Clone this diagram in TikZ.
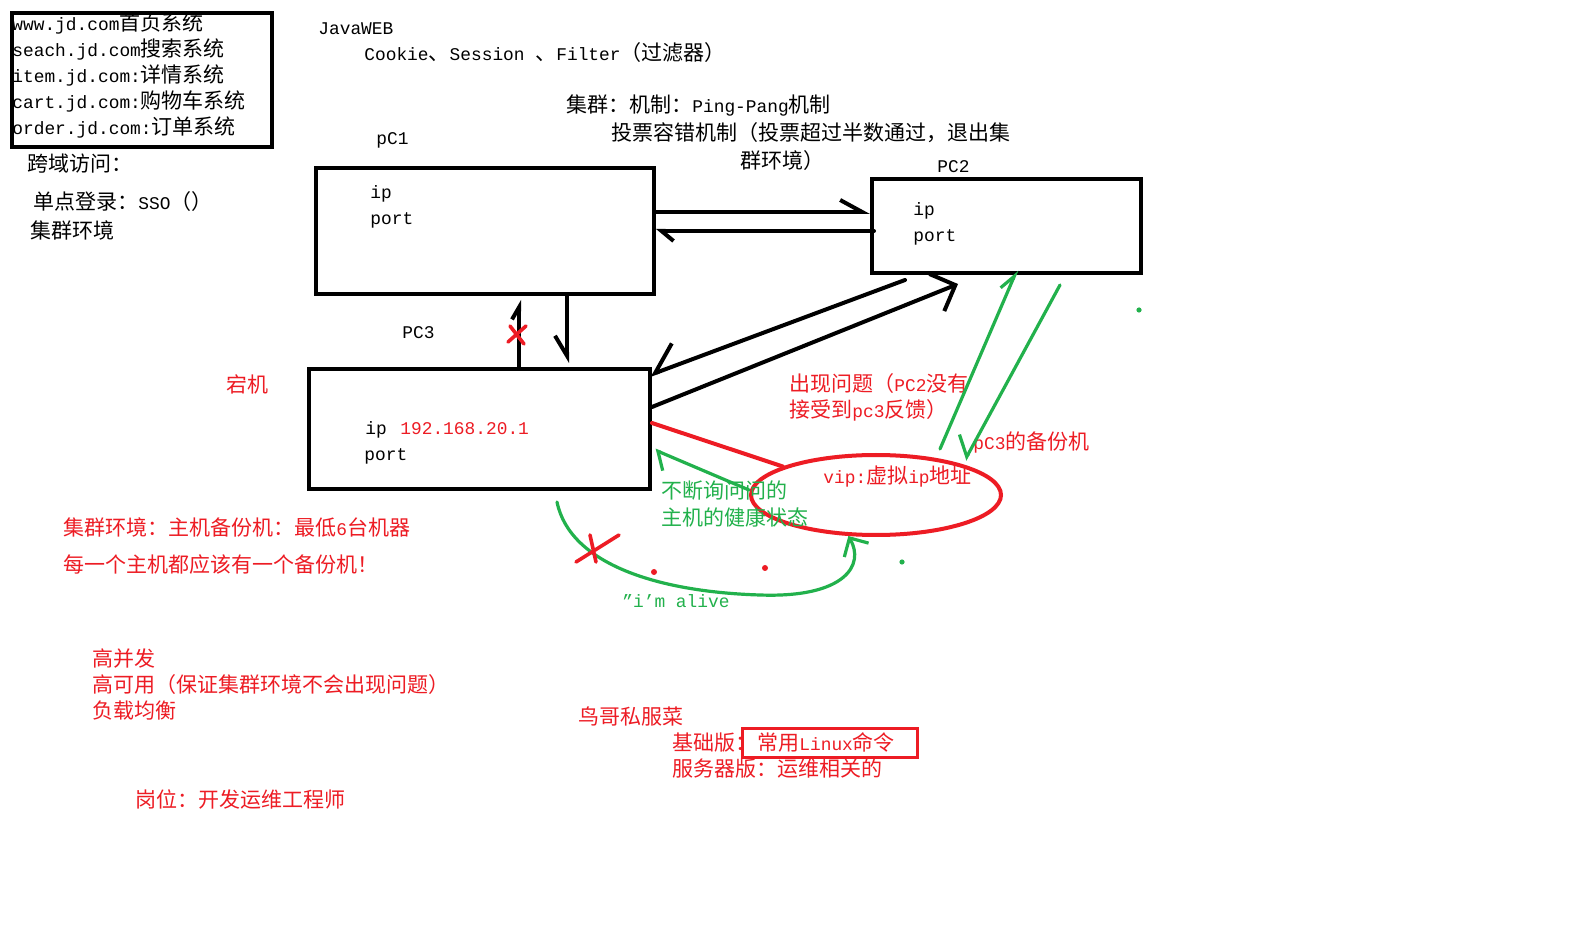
\documentclass[tikz,border=0pt]{standalone}
\usepackage{fontspec}
\setmainfont{Liberation Mono}[Scale=0.85]
\newfontfamily\latinfont{Liberation Mono}[Scale=0.85]
\newfontfamily\cjkfont{Noto Sans CJK SC}
% switch to the CJK font for Chinese characters and punctuation
\XeTeXinterchartokenstate=1
\newXeTeXintercharclass\cjkclass
\newcount\cjkcode
\cjkcode="2E80
\loop \XeTeXcharclass\cjkcode=\cjkclass \advance\cjkcode 1 \ifnum\cjkcode<"A000 \repeat
\cjkcode="FF00
\loop \XeTeXcharclass\cjkcode=\cjkclass \advance\cjkcode 1 \ifnum\cjkcode<"FFF0 \repeat
\XeTeXinterchartoks 0 \cjkclass = {\cjkfont}
\XeTeXinterchartoks 4095 \cjkclass = {\cjkfont}
\XeTeXinterchartoks \cjkclass 0 = {\latinfont}
\usepackage{tikz}
\usetikzlibrary{shapes.geometric, arrows.meta}
\definecolor{paintred}{RGB}{237,28,36}
\definecolor{paintgreen}{RGB}{34,177,76}
\tikzstyle{hostbox} = [rectangle, draw=black, line width=2pt, inner sep=0pt]
\tikzstyle{note} = [anchor=base west, inner sep=0pt, font=\fontsize{10.5}{13}\selectfont]
\tikzstyle{rednote} = [note, text=paintred]
\tikzstyle{greennote} = [note, text=paintgreen]
\tikzstyle{arrow} = [line width=2pt, line cap=round, black]
\tikzstyle{greenarrow} = [line width=1.6pt, line cap=round, paintgreen]
\tikzstyle{redpen} = [line width=1.8pt, line cap=round, paintred]

\begin{document}
\begin{tikzpicture}[x=0.5pt, y=-0.5pt]
\useasboundingbox[fill=white] (0,0) rectangle (1571,936);
% sites box
\node (sites) [hostbox, minimum width=130pt, minimum height=67pt] at (142,80) {};
\node (www) [note] at (12,31) {www.jd.com首页系统};
\node (seach) [note] at (12,57) {seach.jd.com搜索系统};
\node (item) [note] at (12,83) {item.jd.com:详情系统};
\node (cart) [note] at (12,109) {cart.jd.com:购物车系统};
\node (order) [note] at (12,135) {order.jd.com:订单系统};
\node (cross) [note] at (27,172) {跨域访问：};
\node (sso) [note] at (33,210) {单点登录：SSO（）};
\node (env) [note] at (30,239) {集群环境};
\node (javaweb) [note] at (318,35) {JavaWEB};
\node (cookie) [note] at (364,61) {Cookie、Session 、Filter（过滤器）};
\node (pingpang) [note] at (566,113) {集群：机制：Ping-Pang机制};
\node (vote) [note] at (611,141) {投票容错机制（投票超过半数通过，退出集};
\node (vote2) [note] at (740,169) {群环境）};

% hosts
\node (pc1) [hostbox, minimum width=169pt, minimum height=63pt] at (485,231) {};
\node (pc2) [hostbox, minimum width=134.5pt, minimum height=47pt] at (1006.5,226) {};
\node (pc3) [hostbox, minimum width=170.5pt, minimum height=60pt] at (479.5,429) {};
\node (pc1name) [note] at (376,145) {pC1};
\node (pc2name) [note] at (937,173) {PC2};
\node (pc3name) [note] at (402,339) {PC3};
\node (ip1) [note] at (370,199) {ip};
\node (port1) [note] at (370,225) {port};
\node (ip2) [note] at (913,216) {ip};
\node (port2) [note] at (913,242) {port};
\node (ip3) [note] at (365,435) {ip};
\node (ipaddr) [rednote] at (400,435) {192.168.20.1};
\node (port3) [note] at (364,461) {port};
\node (down) [rednote] at (226,393) {宕机};

% virtual ip
\node (vip) [ellipse, draw=paintred, line width=2pt, minimum width=125pt, minimum height=40pt, inner sep=0pt] at (876,495) {};
\node (viptext) [rednote] at (823,484) {vip:虚拟ip地址};
\node (problem) [rednote] at (789,392) {出现问题（PC2没有};
\node (problem2) [rednote] at (789,418) {接受到pc3反馈）};
\node (backup) [rednote] at (973,450) {pC3的备份机};
\node (ask) [greennote] at (661,499) {不断询问问的};
\node (ask2) [greennote] at (661,525) {主机的健康状态};
\node (alive) [greennote] at (622,607) {”i’m alive};

% black connectors
\draw[arrow, -{Straight Barb[left, length=11pt, width=12pt]}] ([yshift=9.5pt]pc1.east) -- ([yshift=7pt]pc2.west);
\draw[arrow, -{Straight Barb[left, length=6pt, width=10pt]}] ([xshift=2pt, yshift=-2.5pt]pc2.west) -- (pc1.east);
\draw[arrow, -{Straight Barb[left, length=6pt, width=7pt]}] ([xshift=19.75pt]pc3.north) -- ([xshift=17pt, yshift=-2pt]pc1.south);
\draw[arrow, -{Straight Barb[right, length=10pt, width=12pt]}] ([xshift=41pt]pc1.south) -- ([xshift=43.75pt, yshift=2pt]pc3.north);
\draw[arrow, -{Straight Barb[right, length=13pt, width=22pt]}] ([xshift=-50.75pt, yshift=-2.5pt]pc2.south) -- ([xshift=-1pt, yshift=-4pt]pc3.north east);
\draw[arrow, -{Straight Barb[length=10pt, width=20pt]}] ([yshift=11pt]pc3.east) -- ([xshift=-24.25pt, yshift=-4.5pt]pc2.south);

% red and green connectors
\draw[redpen, line width=2pt] ([yshift=3pt]pc3.east) -- (vip.163);
\draw[greenarrow, -{Straight Barb[left, length=6pt, width=16pt]}] ([yshift=2.5pt]vip.west) -- ([xshift=1.5pt, yshift=-10.5pt]pc3.east);
\draw[greenarrow, -{Straight Barb[length=7pt, width=14pt]}] ([xshift=38.75pt, yshift=-5.5pt]pc3.south) .. controls (570,565) and (660,592) .. (760,595) .. controls (845,598) and (865,565) .. (vip.236);
\draw[greenarrow, -{Straight Barb[left, length=8pt, width=8pt]}] ([xshift=32pt, yshift=2pt]vip.north) -- ([xshift=5.25pt, yshift=2.5pt]pc2.south);
\draw[greenarrow, -{Straight Barb[right, length=8pt, width=17pt]}] ([xshift=26.75pt, yshift=-5pt]pc2.south) -- ([xshift=44.5pt, yshift=-3.5pt]vip.north);

% crosses and dots
\coordinate (cutup) at (517,334);
\draw[redpen] (cutup) +(-9,8) -- +(9,-8) (cutup) +(-7,-8) -- +(7,10);
\coordinate (cutalive) at (596,548);
\draw[redpen] (cutalive) +(-20,14) -- +(23,-13) (cutalive) +(-6,-13) -- +(0,14);
\fill[paintred] (654,572) circle (1.5pt);
\fill[paintred] (765,568) circle (1.5pt);
\fill[paintgreen] (902,562) circle (1.3pt);
\fill[paintgreen] (1139,310) circle (1.3pt);

% notes
\node (cluster) [rednote] at (63,536) {集群环境：主机备份机：最低6台机器};
\node (each) [rednote] at (63,573) {每一个主机都应该有一个备份机！};
\node (hc) [rednote] at (92,666) {高并发};
\node (ha) [rednote] at (92,692) {高可用（保证集群环境不会出现问题）};
\node (lb) [rednote] at (92,718) {负载均衡};
\node (course) [rednote] at (578,724) {鸟哥私服菜};
\node (basic) [rednote] at (672,750) {基础版：};
\node (linuxbox) [rectangle, draw=paintred, line width=1.5pt, minimum width=87.5pt, minimum height=14.5pt, inner sep=0pt] at (829.5,742.5) {};
\node (linux) [rednote] at (757,750) {常用Linux命令};
\node (server) [rednote] at (672,776) {服务器版：运维相关的};
\node (job) [rednote] at (135,807) {岗位：开发运维工程师};
\end{tikzpicture}
\end{document}
